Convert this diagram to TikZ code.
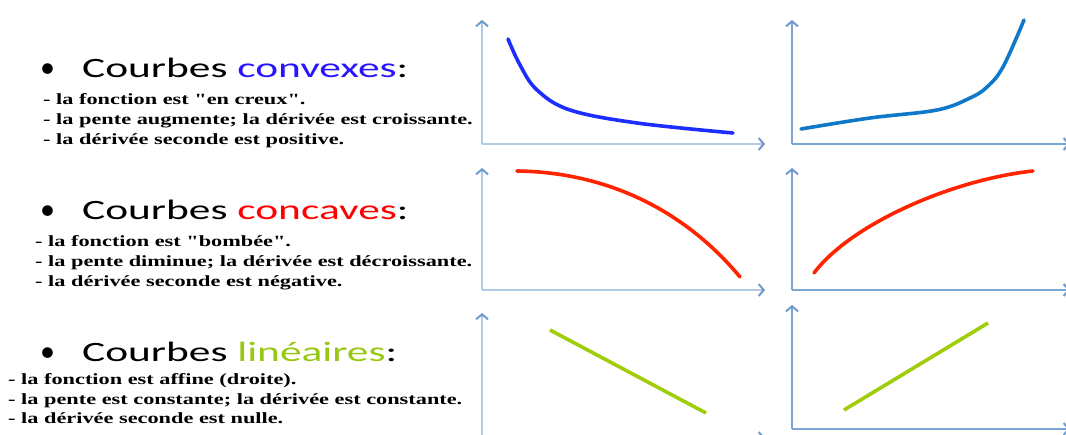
\documentclass[tikz,border=0pt]{standalone}
\usepackage{fontspec}
\setmainfont{Liberation Serif}
\newfontfamily\headfont[FakeStretch=1.55]{Carlito}
\newfontfamily\dotfont{Carlito}
\newfontfamily\remarkfont[FakeStretch=1.43]{Liberation Serif}
\usetikzlibrary{arrows.meta}

\definecolor{axisline}{RGB}{178,202,230}
\definecolor{axistip}{RGB}{110,155,205}
\definecolor{axisthin}{RGB}{125,165,212}
\definecolor{convblue}{RGB}{30,45,255}
\definecolor{convsteel}{RGB}{15,120,200}
\definecolor{concred}{RGB}{255,35,0}
\definecolor{lingreen}{RGB}{160,205,10}
\definecolor{wordblue}{RGB}{40,20,255}
\definecolor{wordred}{RGB}{255,0,0}
\definecolor{wordgreen}{RGB}{150,200,20}

\tikzset{
  axisthick/.style={draw=axisline, line width=2.4pt,
    -{Straight Barb[length=5pt,width=12pt,line width=2pt,color=axistip]}},
  axisfine/.style={draw=axisthin, line width=1.4pt,
    -{Straight Barb[length=5pt,width=12pt,line width=2pt,color=axistip]}},
  curve/.style={line width=3.6pt, line cap=round},
  heading/.style={anchor=base west, inner sep=0pt,
    font=\headfont\fontsize{28}{30}\selectfont},
  bulletmark/.style={anchor=base west, inner sep=0pt,
    font=\dotfont\fontsize{30}{30}\selectfont},
  remark/.style={anchor=base west, inner sep=0pt,
    font=\remarkfont\bfseries\fontsize{15.6}{18}\selectfont},
}

\begin{document}
\begin{tikzpicture}[x=1pt,y=-1pt]
  \useasboundingbox (0,0) rectangle (1066,435);
  \clip (0,0) rectangle (1066,435);

  % Headings
  \node[bulletmark] (dot1) at (40,78) {\textbullet};
  \node[heading] (head1) at (82,78) {Courbes \textcolor{wordblue}{convexes}:};
  \node[bulletmark] (dot2) at (40,220) {\textbullet};
  \node[heading] (head2) at (82,220) {Courbes \textcolor{wordred}{concaves}:};
  \node[bulletmark] (dot3) at (40,362) {\textbullet};
  \node[heading] (head3) at (82,362) {Courbes \textcolor{wordgreen}{linéaires}:};

  % Remarks
  \node[remark] (rem11) at (43,105) {- la fonction est \char34 en creux\char34.};
  \node[remark] (rem12) at (43,125) {- la pente augmente; la dérivée est croissante.};
  \node[remark] (rem13) at (43,145) {- la dérivée seconde est positive.};
  \node[remark] (rem21) at (35,247) {- la fonction est \char34 bombée\char34.};
  \node[remark] (rem22) at (35,267) {- la pente diminue; la dérivée est décroissante.};
  \node[remark] (rem23) at (35,287) {- la dérivée seconde est négative.};
  \node[remark] (rem31) at (8,385) {- la fonction est affine (droite).};
  \node[remark] (rem32) at (8,405) {- la pente est constante; la dérivée est constante.};
  \node[remark] (rem33) at (8,424) {- la dérivée seconde est nulle.};

  % Axes
  \coordinate (o1) at (482,144);
  \coordinate (o2) at (792,144);
  \coordinate (o3) at (482,290);
  \coordinate (o4) at (792,290);
  \coordinate (o5) at (482,438);
  \coordinate (o6) at (792,429);
  \draw[axisthick] (o1) -- (482,20);
  \draw[axisthick] (o1) -- (765,144);
  \draw[axisfine] (o2) -- (792,20);
  \draw[axisfine] (o2) -- (1070,144);
  \draw[axisthick] (o3) -- (482,168);
  \draw[axisthick] (o3) -- (765,290);
  \draw[axisfine] (o4) -- (792,168);
  \draw[axisfine] (o4) -- (1070,290);
  \draw[axisthick] (o5) -- (482,313);
  \draw[axisthick] (o5) -- (765,438);
  \draw[axisfine] (o6) -- (792,305);
  \draw[axisfine] (o6) -- (1070,429);

  % Curves
  \draw[curve, convblue] plot[smooth, tension=0.6] coordinates
    {(508,39) (520,65) (537,90) (570,110) (637,123) (733,133)};
  \draw[curve, convsteel] plot[smooth, tension=0.6] coordinates
    {(801,129) (870,118) (937,110) (970,98) (987,87) (1003,67) (1024,20)};
  \draw[curve, concred] (517,171) .. controls (600,172) and (680,205) .. (740,277);
  \draw[curve, concred] (814,273) .. controls (850,225) and (950,180) .. (1033,171);
  \draw[curve, lingreen, line cap=butt] (550,330) -- (706,413);
  \draw[curve, lingreen, line cap=butt] (844,410) -- (988,323);
\end{tikzpicture}
\end{document}
